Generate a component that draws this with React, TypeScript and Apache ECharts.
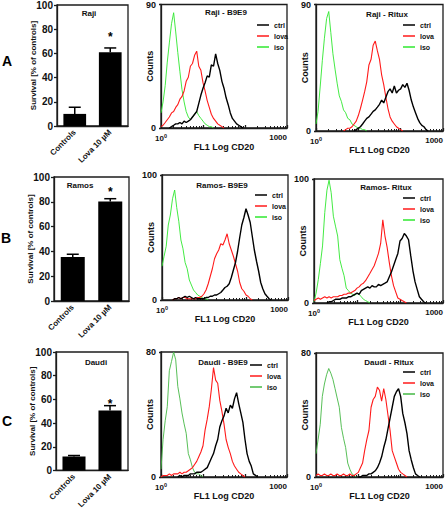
import React, { useEffect, useRef } from 'react';
import * as echarts from 'echarts';

const _ = null;

// FL1 log-scale bin centres (FL1 fluorescence intensity)
const fl1Bins = [
  1.0, 1.12, 1.26, 1.41, 1.58, 1.78, 2.0, 2.24, 2.51, 2.82,
  3.16, 3.55, 3.98, 4.47, 5.01, 5.62, 6.31, 7.08, 7.94, 8.91,
  10.0, 11.2, 12.6, 14.1, 15.8, 17.8, 20.0, 22.4, 25.1, 28.2,
  31.6, 35.5, 39.8, 44.7, 50.1, 56.2, 63.1, 70.8, 79.4, 89.1,
  100, 112, 126, 141, 158, 178, 200, 224, 251, 282,
  316, 355, 398, 447, 501, 562, 631, 708, 794, 891,
  1000,
];

// Bar charts
const barCategories = ['Controls', 'Lova 10 µM'];
const rajiSurvival = [10, 61];
const rajiError = [5.5, 3.5];
const rajiStar = [_, 76];
const ramosSurvival = [35.5, 80.3];
const ramosError = [2.2, 2.2];
const ramosStar = [_, 90];
const daudiSurvival = [11.8, 50.7];
const daudiError = [0.8, 4];
const daudiStar = [_, 59];

// Histogram counts per bin
const rajiB9E9Iso = [11, 19, 31, 48, 62, 76, 84, 70, 55, 41, 28, 19, 12, 8, 6, 8, 10, 12, 9, 7, 5, 3, 2, 1, 1, 0];
const rajiB9E9Lova = [1, 2, 4, 6, 8, 11, 12, 15, 17, 21, 23, 27, 34, 37, 45, 47, 53, 56, 45, 42, 33, 27, 20, 15, 10, 7, 5, 3, 2, 1, 0];
const rajiB9E9Ctrl = [_, _, _, _, 0, 1, 2, 3, 3, 4, 3, 5, 4, 5, 6, 8, 10, 12, 18, 24, 29, 33, 38, 37, 46, 45, 54, 47, 42, 34, 29, 22, 17, 11, 7, 5, 3, 2, 1, 0];

const rajiRituxIso = [5, 14, 32, 50, 66, 80, 85, 70, 55, 44, 34, 25, 21, 15, 13, 9, 8, 5, 4, 3, 2, 2, 1, 1, 0];
const rajiRituxLova = [_, _, _, _, _, _, _, _, _, _, _, _, _, 0, 1, 2, 2, 3, 5, 7, 11, 16, 22, 28, 35, 47, 51, 61, 64, 57, 51, 40, 33, 24, 16, 10, 7, 5, 3, 2, 1, 0];
const rajiRituxCtrl = [_, _, _, _, _, _, _, _, _, _, _, _, _, _, _, _, _, _, 0, 1, 2, 3, 5, 7, 9, 10, 12, 14, 15, 17, 19, 22, 20, 24, 28, 30, 27, 32, 27, 29, 30, 33, 31, 34, 29, 22, 17, 13, 9, 6, 4, 3, 1, 0];

const ramosB9E9Iso = [27, 35, 43, 60, 68, 81, 88, 74, 63, 48, 41, 30, 25, 16, 12, 8, 6, 4, 3, 2, 1, 1, 0];
const ramosB9E9Lova = [_, _, _, _, _, 0, 1, 1, 2, 1, 2, 2, 1, 1, 1, 1, 1, 2, 2, 3, 5, 8, 13, 19, 25, 33, 37, 40, 45, 44, 48, 53, 45, 40, 35, 29, 23, 14, 9, 7, 4, 3, 1, 0];
const ramosB9E9Ctrl = [_, _, _, _, _, 0, 1, 1, 2, 1, 2, 3, 2, 3, 2, 1, 2, 1, 1, 1, 1, 2, 2, 3, 3, 4, 4, 5, 6, 8, 10, 11, 13, 18, 24, 30, 39, 50, 60, 66, 73, 68, 62, 51, 40, 31, 23, 14, 9, 5, 3, 1, 0];

const ramosRituxIso = [1, 8, 19, 32, 46, 73, 91, 99, 89, 70, 62, 54, 35, 28, 22, 12, 10, 8, 7, 6, 8, 7, 5, 3, 2, 1, 0];
const ramosRituxLova = [2, 3, 4, 3, 4, 5, 4, 5, 4, 5, 5, 5, 6, 6, 7, 7, 8, 8, 9, 10, 12, 13, 15, 16, 18, 21, 24, 27, 30, 35, 40, 48, 67, 54, 45, 33, 22, 14, 9, 4, 3, 2, 1, 0];
const ramosRituxCtrl = [_, _, _, _, _, _, 0, 1, 1, 2, 3, 3, 3, 4, 4, 4, 5, 5, 6, 7, 8, 7, 10, 11, 12, 13, 12, 14, 13, 13, 15, 14, 15, 16, 17, 21, 25, 30, 35, 40, 50, 52, 56, 54, 51, 38, 26, 17, 11, 5, 3, 1, 0];

const daudiB9E9Iso = [5, 24, 36, 45, 68, 74, 80, 75, 58, 50, 41, 34, 28, 15, 11, 6, 3, 2, 2, 1, 0];
const daudiB9E9Lova = [0, 1, 1, 1, 2, 1, 2, 2, 2, 3, 2, 3, 3, 4, 5, 6, 8, 10, 13, 16, 20, 30, 37, 45, 56, 70, 62, 60, 49, 42, 34, 24, 19, 15, 10, 7, 5, 3, 2, 1, 0];
const daudiB9E9Ctrl = [_, _, _, _, _, _, _, _, 0, 1, 0, 1, 1, 1, 2, 2, 2, 3, 3, 3, 4, 5, 6, 9, 12, 15, 20, 24, 32, 36, 39, 44, 41, 46, 44, 50, 54, 47, 41, 35, 24, 15, 10, 7, 2, 1, 0];

const daudiRituxIso = [15, 24, 34, 52, 60, 66, 70, 67, 63, 57, 51, 45, 32, 25, 19, 9, 5, 2, 1, 0];
const daudiRituxLova = [1, 2, 1, 1, 2, 1, 1, 2, 1, 1, 2, 1, 1, 2, 1, 1, 2, 1, 1, 2, 3, 6, 9, 17, 24, 30, 45, 50, 52, 58, 56, 49, 57, 50, 40, 30, 17, 13, 9, 5, 3, 2, 1, 0];
const daudiRituxCtrl = [_, _, _, _, _, _, _, _, _, _, _, _, _, _, _, _, _, _, _, _, 0, 0, 1, 1, 1, 2, 2, 3, 4, 6, 9, 13, 19, 24, 31, 38, 45, 52, 55, 57, 52, 41, 35, 28, 17, 11, 6, 2, 1, 0];

const FONT = '"Liberation Sans", Arial, Helvetica, sans-serif';
const AX = '#1c1c1c';
const TXT = '#111';
const RED = '#ff1a1a';
const GREEN = '#2fe82f';
const GREEN_C = '#45b845';

const barPanels = [
  { title: 'Raji', values: rajiSurvival, errors: rajiError, stars: rajiStar, grid: { left: 57, top: 4, width: 71, height: 122 }, titleAt: [89, 14] },
  { title: 'Ramos', values: ramosSurvival, errors: ramosError, stars: ramosStar, grid: { left: 54, top: 177, width: 75, height: 124 }, titleAt: [80, 186] },
  { title: 'Daudi', values: daudiSurvival, errors: daudiError, stars: daudiStar, grid: { left: 56, top: 352, width: 72, height: 121 }, titleAt: [96, 363] },
];

const histPanels = [
  { title: 'Raji - B9E9', ymax: 90, ctrl: rajiB9E9Ctrl, lova: rajiB9E9Lova, iso: rajiB9E9Iso, isoColor: GREEN, grid: { left: 161, top: 4, width: 126, height: 124 }, titleAt: [226, 13], legendAt: [257, 21] },
  { title: 'Raji - Ritux', ymax: 90, ctrl: rajiRituxCtrl, lova: rajiRituxLova, iso: rajiRituxIso, isoColor: GREEN, grid: { left: 316, top: 4, width: 127, height: 127 }, titleAt: [387, 15], legendAt: [403, 21] },
  { title: 'Ramos- B9E9', ymax: 100, ctrl: ramosB9E9Ctrl, lova: ramosB9E9Lova, iso: ramosB9E9Iso, isoColor: GREEN, grid: { left: 162, top: 175, width: 126, height: 125 }, titleAt: [222, 186], legendAt: [255, 191] },
  { title: 'Ramos- Ritux', ymax: 100, ctrl: ramosRituxCtrl, lova: ramosRituxLova, iso: ramosRituxIso, isoColor: GREEN, grid: { left: 314, top: 179, width: 129, height: 124 }, titleAt: [386, 188], legendAt: [403, 194] },
  { title: 'Daudi - B9E9', ymax: 80, ctrl: daudiB9E9Ctrl, lova: daudiB9E9Lova, iso: daudiB9E9Iso, isoColor: GREEN_C, grid: { left: 161, top: 352, width: 126, height: 125 }, titleAt: [223, 363], legendAt: [250, 361] },
  { title: 'Daudi - Ritux', ymax: 80, ctrl: daudiRituxCtrl, lova: daudiRituxLova, iso: daudiRituxIso, isoColor: GREEN_C, grid: { left: 316, top: 353, width: 127, height: 124 }, titleAt: [389, 363], legendAt: [403, 368] },
];

const panelLetters = [
  { text: 'A', at: [7, 61] },
  { text: 'B', at: [6, 238] },
  { text: 'C', at: [7, 421] },
];

function buildOption() {
  const grid: any[] = [];
  const xAxis: any[] = [];
  const yAxis: any[] = [];
  const series: any[] = [];
  const title: any[] = [];
  const legend: any[] = [];
  const lineStyle = { color: AX, width: 1.3 };

  barPanels.forEach((p) => {
    const gi = grid.length;
    grid.push({ ...p.grid, show: true, borderColor: AX, borderWidth: 1.3, backgroundColor: 'transparent' });
    xAxis.push({
      type: 'category', gridIndex: gi, data: barCategories,
      axisLine: { lineStyle }, axisTick: { show: false },
      axisLabel: { rotate: 45, interval: 0, fontSize: 8, fontWeight: 'bold', color: TXT, fontFamily: FONT, margin: 5 },
    });
    yAxis.push({
      type: 'value', gridIndex: gi, min: 0, max: 100, interval: 20,
      name: 'Survival [% of controls]', nameLocation: 'middle', nameGap: 20, nameMoveOverlap: false,
      nameTextStyle: { fontSize: 8, fontWeight: 'bold', color: TXT, fontFamily: FONT },
      axisLine: { show: true, lineStyle }, axisTick: { show: true, length: 3, lineStyle },
      axisLabel: { fontSize: 10, fontWeight: 'bold', color: TXT, fontFamily: FONT, margin: 4 },
      splitLine: { show: false },
    });
    series.push({
      type: 'bar', xAxisIndex: gi, yAxisIndex: gi, data: p.values, barWidth: '64%',
      itemStyle: { color: '#000' }, silent: true,
    });
    series.push({
      type: 'custom', xAxisIndex: gi, yAxisIndex: gi, z: 4, silent: true,
      data: p.values.map((v, j) => [j, v, p.errors[j], p.stars[j] ?? -1]),
      renderItem: (params: any, api: any) => {
        const idx = api.value(0);
        const v = api.value(1);
        const e = api.value(2);
        const s = api.value(3);
        const base = api.coord([idx, v]);
        const top = api.coord([idx, v + e]);
        const hw = 6;
        const children: any[] = [
          { type: 'line', shape: { x1: base[0], y1: base[1], x2: top[0], y2: top[1] }, style: { stroke: '#000', lineWidth: 1.5 } },
          { type: 'line', shape: { x1: top[0] - hw, y1: top[1], x2: top[0] + hw, y2: top[1] }, style: { stroke: '#000', lineWidth: 1.5 } },
        ];
        if (s > 0) {
          const sp = api.coord([idx, s]);
          children.push({
            type: 'text', x: sp[0], y: sp[1] + 3,
            style: { text: '*', font: `bold 12px ${FONT}`, fill: '#000', align: 'center', verticalAlign: 'middle', textAlign: 'center', textVerticalAlign: 'middle' },
          });
        }
        return { type: 'group', children };
      },
    });
    title.push({
      text: p.title, left: p.titleAt[0], top: p.titleAt[1] - 5, textAlign: 'center', padding: 0,
      textStyle: { fontSize: 8, fontWeight: 'bold', color: TXT, fontFamily: FONT },
    });
  });

  histPanels.forEach((p) => {
    const gi = grid.length;
    grid.push({ ...p.grid, show: true, borderColor: AX, borderWidth: 1.3, backgroundColor: 'transparent' });
    xAxis.push({
      type: 'log', logBase: 10, min: 1, max: 1000, gridIndex: gi,
      name: 'FL1 Log CD20', nameLocation: 'middle', nameGap: 14, nameMoveOverlap: false,
      nameTextStyle: { fontSize: 9, fontWeight: 'bold', color: TXT, fontFamily: FONT },
      axisLine: { lineStyle },
      axisTick: { show: true, inside: true, length: 3, lineStyle },
      minorTick: { show: true, splitNumber: 9, length: 2, lineStyle: { color: AX, width: 1 } },
      axisLabel: {
        fontSize: 8, fontWeight: 'bold', color: TXT, fontFamily: FONT, margin: 5,
        alignMaxLabel: 'right',
        formatter: (v: number) => {
          const r = Math.round(Number(v));
          if (r === 1) return '{b|10}{s|0}';
          if (r === 1000) return '1000';
          return '';
        },
        rich: {
          b: { fontSize: 8, fontWeight: 'bold', color: TXT, fontFamily: FONT },
          s: { fontSize: 5.5, fontWeight: 'bold', color: TXT, fontFamily: FONT, verticalAlign: 'top', padding: [0, 0, 4, 0] },
        },
      },
      splitLine: { show: false },
    });
    yAxis.push({
      type: 'value', gridIndex: gi, min: 0, max: p.ymax, interval: p.ymax,
      name: 'Counts', nameLocation: 'middle', nameGap: 7, nameMoveOverlap: false,
      nameTextStyle: { fontSize: 9, fontWeight: 'bold', color: TXT, fontFamily: FONT },
      axisLine: { show: true, lineStyle }, axisTick: { show: true, length: 2, lineStyle },
      axisLabel: { fontSize: 9, fontWeight: 'bold', color: TXT, fontFamily: FONT, margin: 5 },
      splitLine: { show: false },
    });
    const mk = (name: string, arr: (number | null)[], color: string, width: number) => ({
      type: 'line', name, xAxisIndex: gi, yAxisIndex: gi, silent: true,
      data: fl1Bins.map((b, j) => [b, arr[j] ?? null]),
      showSymbol: false, symbol: 'none', connectNulls: false,
      lineStyle: { color, width }, itemStyle: { color },
    });
    series.push(mk('iso', p.iso, p.isoColor, 0.9));
    series.push(mk('lova', p.lova, RED, 1.1));
    series.push(mk('ctrl', p.ctrl, '#000', 1.4));
    title.push({
      text: p.title, left: p.titleAt[0], top: p.titleAt[1] - 5, textAlign: 'center', padding: 0,
      textStyle: { fontSize: 8, fontWeight: 'bold', color: TXT, fontFamily: FONT },
    });
    legend.push({
      left: p.legendAt[0], top: p.legendAt[1], orient: 'vertical', padding: 0,
      icon: 'rect', itemWidth: 12, itemHeight: 1.5, itemGap: 3, selectedMode: false,
      textStyle: { fontSize: 7, fontWeight: 'bold', color: TXT, fontFamily: FONT, lineHeight: 8 },
      data: [
        { name: 'ctrl', itemStyle: { color: '#000' } },
        { name: 'lova', itemStyle: { color: RED } },
        { name: 'iso', itemStyle: { color: p.isoColor } },
      ],
    });
  });

  const graphic = panelLetters.map((l) => ({
    type: 'text', x: l.at[0], y: l.at[1],
    style: { text: l.text, font: `bold 14px ${FONT}`, fill: '#000', align: 'center', verticalAlign: 'middle', textAlign: 'center', textVerticalAlign: 'middle' },
  }));

  return {
    animation: false,
    backgroundColor: '#fff',
    textStyle: { fontFamily: FONT },
    grid, xAxis, yAxis, series, title, legend, graphic,
  };
}

export default function App() {
  const ref = useRef<HTMLDivElement>(null);
  useEffect(() => {
    if (!ref.current) return;
    const chart = echarts.init(ref.current, undefined, { renderer: 'svg' });
    chart.setOption(buildOption() as any);
    return () => chart.dispose();
  }, []);
  return (
    <div
      ref={ref}
      style={{ position: 'fixed', left: 0, top: 0, width: 446, height: 511, background: '#fff' }}
    />
  );
}
